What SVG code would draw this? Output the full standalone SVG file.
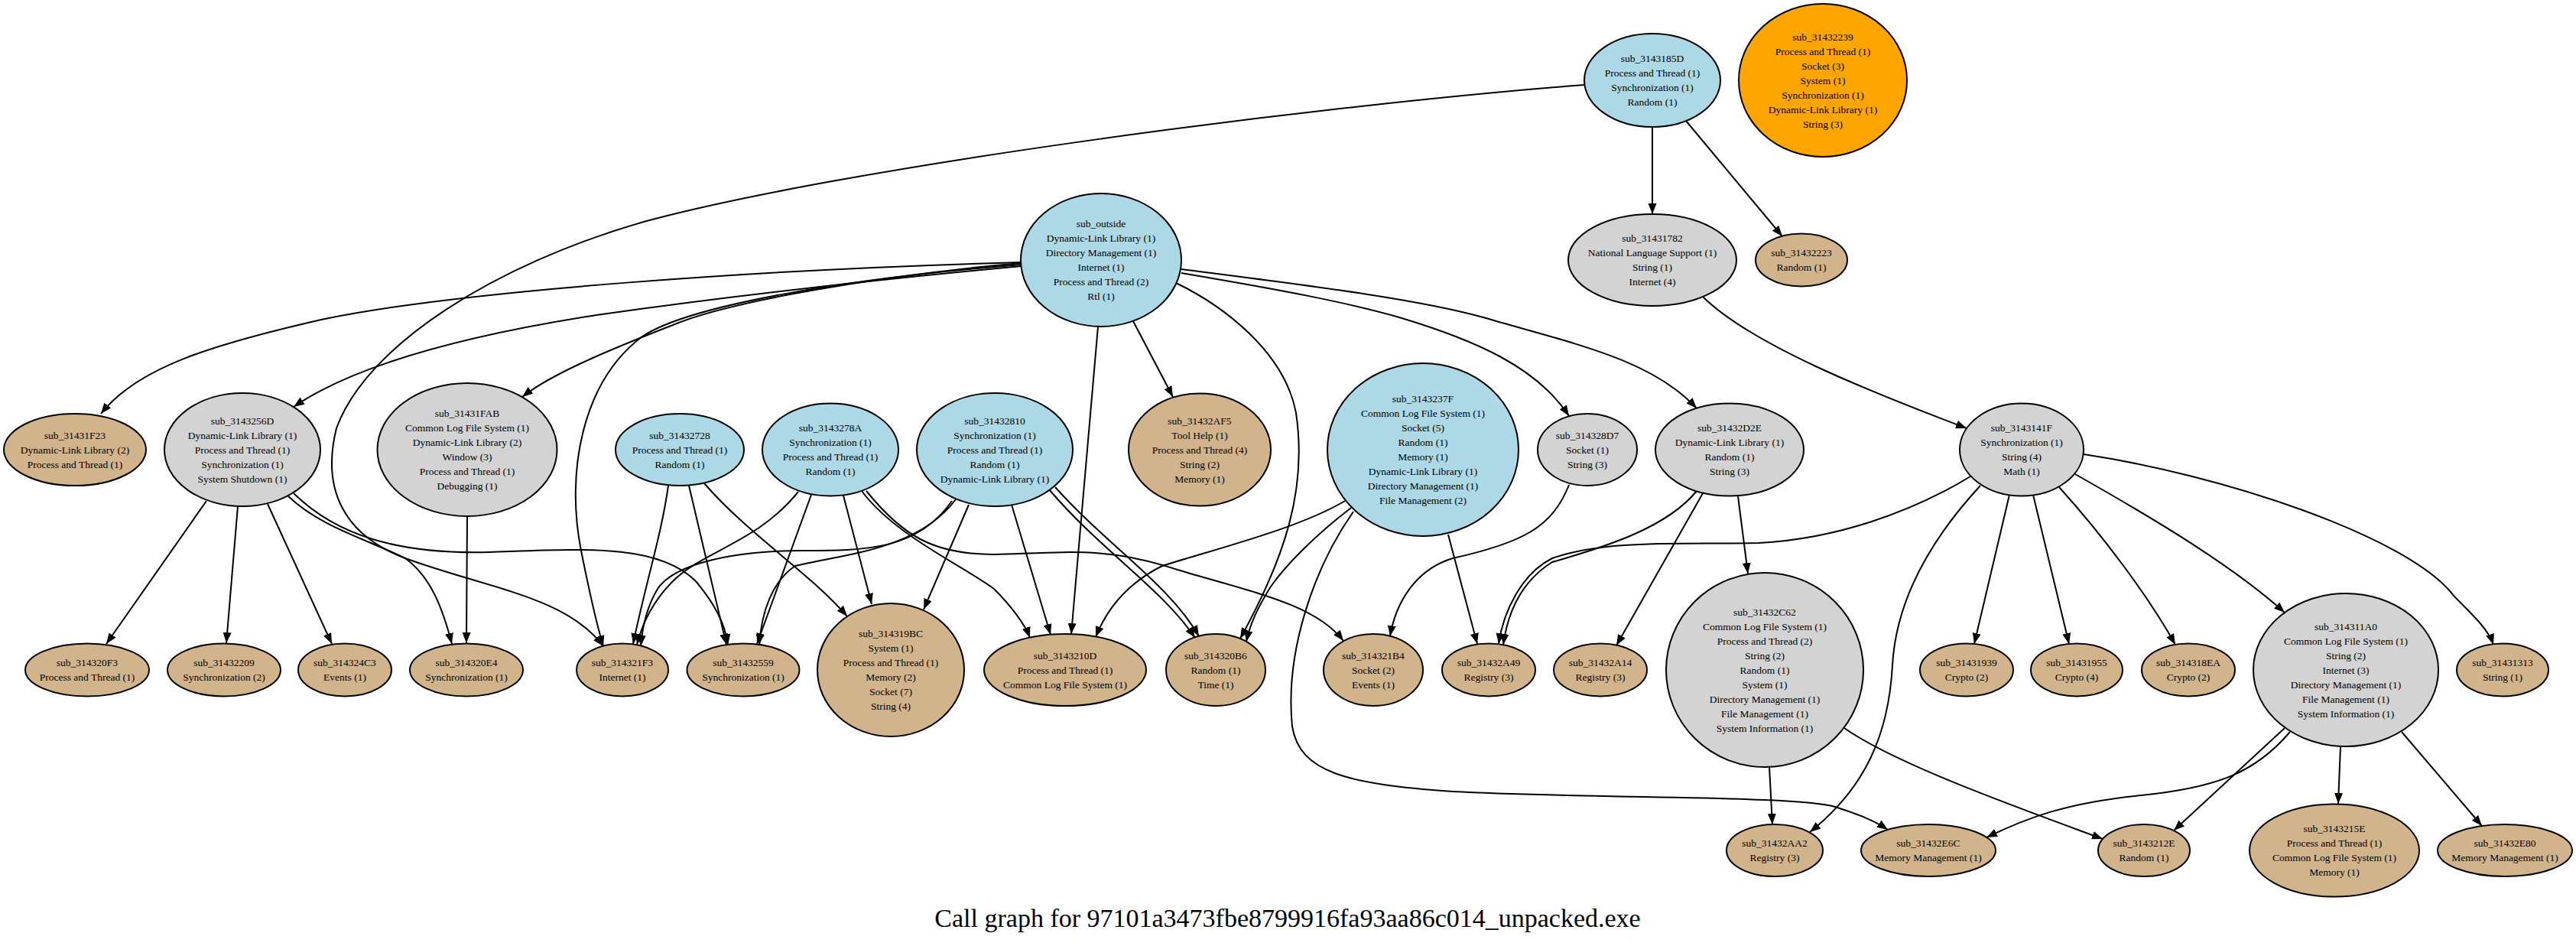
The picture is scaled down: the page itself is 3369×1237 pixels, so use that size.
<svg xmlns="http://www.w3.org/2000/svg" width="3369" height="1237" viewBox="0 0 3369 1237">
<defs>
<style>
.e{fill:none;stroke:#000;stroke-width:2;marker-end:url(#ah)}
ellipse{stroke:#000;stroke-width:2}
.b{fill:#add8e6}.g{fill:#d3d3d3}.t{fill:#d2b48c}.o{fill:#ffa500}
text{font-family:"Liberation Serif","Times New Roman",serif;font-size:13.5px;text-anchor:middle;fill:#000}
.title{font-size:34px}
</style>
<marker id="ah" markerWidth="14" markerHeight="11" refX="14" refY="5.5" orient="auto" markerUnits="userSpaceOnUse"><path d="M0,0L14,5.5L0,11z" fill="#000"/></marker>
</defs>
<rect width="3369" height="1237" fill="#fff"/>
<g id="edges">
<path class="e" d="M1336,343 C1000,352 600,380 420,418 C280,450 180,480 132,541"/>
<path class="e" d="M1336,348 C1100,370 900,395 780,412 C600,440 460,480 384,532"/>
<path class="e" d="M1336,344 C1150,360 950,395 880,425 C790,460 720,490 683,519"/>
<path class="e" d="M1336,346 C1100,365 900,400 840,440 C760,500 740,620 760,720 C772,780 780,815 789,845"/>
<path class="e" d="M1436,427 L1401,829"/>
<path class="e" d="M1482,420 L1534,519"/>
<path class="e" d="M1538,370 C1600,400 1680,460 1695,540 C1710,640 1680,730 1622,835"/>
<path class="e" d="M1545,357 C1680,380 1760,395 1830,415 C1930,445 2010,480 2052,544"/>
<path class="e" d="M1545,352 C1700,372 1850,390 1940,415 C2060,450 2160,470 2219,534"/>
<path class="e" d="M2161,166 L2161,280"/>
<path class="e" d="M2205,158 L2331,309"/>
<path class="e" d="M2072,111 C1700,140 1100,220 842,290 C650,345 480,450 440,560 C420,640 450,700 530,730 C640,770 740,780 789,845"/>
<path class="e" d="M2227,388 C2290,450 2440,510 2572,560"/>
<path class="e" d="M270,655 L139,842"/>
<path class="e" d="M311,662 L296,841"/>
<path class="e" d="M350,659 L434,842"/>
<path class="e" d="M376,648 C420,690 480,705 530,730 C565,755 580,800 591,842"/>
<path class="e" d="M384,645 C440,700 520,725 640,722 C760,718 860,710 910,760 C935,790 948,815 952,843"/>
<path class="e" d="M611,675 L610,841"/>
<path class="e" d="M874,635 C865,700 845,760 828,842"/>
<path class="e" d="M901,635 L950,843"/>
<path class="e" d="M921,632 C980,700 1060,750 1108,806"/>
<path class="e" d="M1044,643 C990,710 920,720 880,760 C855,785 840,815 833,843"/>
<path class="e" d="M1061,647 L990,842"/>
<path class="e" d="M1103,648 L1140,790"/>
<path class="e" d="M1127,642 C1170,700 1260,740 1300,770 C1320,790 1340,815 1347,834"/>
<path class="e" d="M1133,642 C1180,700 1220,725 1300,725 C1400,722 1450,715 1540,745 C1640,775 1720,790 1757,838"/>
<path class="e" d="M1245,655 C1200,720 1130,720 1050,720 C950,720 880,740 860,770 C845,795 840,820 838,845"/>
<path class="e" d="M1250,653 C1200,720 1100,725 1040,740 C1010,760 996,800 993,843"/>
<path class="e" d="M1267,660 L1208,797"/>
<path class="e" d="M1323,660 L1374,830"/>
<path class="e" d="M1372,640 C1440,720 1520,770 1563,834"/>
<path class="e" d="M1380,637 C1450,715 1530,765 1568,832"/>
<path class="e" d="M1759,655 C1700,690 1600,715 1520,740 C1480,760 1450,790 1433,833"/>
<path class="e" d="M1767,664 C1720,700 1680,740 1660,770 C1645,795 1635,815 1630,839"/>
<path class="e" d="M1770,669 C1720,740 1680,850 1690,950 C1700,1010 1760,1025 1900,1035 C2100,1045 2350,1040 2400,1055 C2430,1065 2450,1072 2469,1085"/>
<path class="e" d="M1894,699 L1932,842"/>
<path class="e" d="M2052,634 C2030,690 1990,710 1900,730 C1850,745 1825,790 1818,832"/>
<path class="e" d="M2219,642 C2180,690 2100,715 2030,735 C1990,760 1972,800 1966,843"/>
<path class="e" d="M2227,645 L2114,844"/>
<path class="e" d="M2273,649 L2286,750"/>
<path class="e" d="M2577,623 C2500,670 2400,705 2300,710 C2200,712 2100,705 2030,730 C1990,750 1966,800 1960,842"/>
<path class="e" d="M2590,635 C2530,700 2480,780 2475,870 C2470,960 2440,1030 2367,1088"/>
<path class="e" d="M2628,647 L2582,842"/>
<path class="e" d="M2659,647 L2706,842"/>
<path class="e" d="M2693,637 C2750,700 2810,780 2845,843"/>
<path class="e" d="M2714,620 C2820,680 2920,740 2988,801"/>
<path class="e" d="M2725,594 C2900,620 3150,700 3210,780 C3240,810 3255,825 3261,843"/>
<path class="e" d="M2314,1003 L2318,1078"/>
<path class="e" d="M2412,952 C2480,1000 2650,1060 2750,1097"/>
<path class="e" d="M2988,952 L2843,1086"/>
<path class="e" d="M2995,957 C2950,1010 2900,1030 2800,1040 C2700,1050 2650,1070 2598,1095"/>
<path class="e" d="M3061,976 L3058,1051"/>
<path class="e" d="M3141,957 L3246,1080"/>
</g>
<g id="n_outside"><ellipse class="b" cx="1440" cy="340" rx="105" ry="87"/><text x="1440" y="297">sub_outside<tspan x="1440" dy="19">Dynamic-Link Library (1)</tspan><tspan x="1440" dy="19">Directory Management (1)</tspan><tspan x="1440" dy="19">Internet (1)</tspan><tspan x="1440" dy="19">Process and Thread (2)</tspan><tspan x="1440" dy="19">Rtl (1)</tspan></text></g>
<g id="n_3143185D"><ellipse class="b" cx="2161" cy="105" rx="89" ry="61"/><text x="2161" y="81">sub_3143185D<tspan x="2161" dy="19">Process and Thread (1)</tspan><tspan x="2161" dy="19">Synchronization (1)</tspan><tspan x="2161" dy="19">Random (1)</tspan></text></g>
<g id="n_31432239"><ellipse class="o" cx="2384" cy="105" rx="110" ry="100"/><text x="2384" y="52.5">sub_31432239<tspan x="2384" dy="19">Process and Thread (1)</tspan><tspan x="2384" dy="19">Socket (3)</tspan><tspan x="2384" dy="19">System (1)</tspan><tspan x="2384" dy="19">Synchronization (1)</tspan><tspan x="2384" dy="19">Dynamic-Link Library (1)</tspan><tspan x="2384" dy="19">String (3)</tspan></text></g>
<g id="n_31431782"><ellipse class="g" cx="2161" cy="340" rx="110" ry="60"/><text x="2161" y="316">sub_31431782<tspan x="2161" dy="19">National Language Support (1)</tspan><tspan x="2161" dy="19">String (1)</tspan><tspan x="2161" dy="19">Internet (4)</tspan></text></g>
<g id="n_31432223"><ellipse class="t" cx="2356" cy="340" rx="60" ry="34.5"/><text x="2356" y="335">sub_31432223<tspan x="2356" dy="19">Random (1)</tspan></text></g>
<g id="n_31431F23"><ellipse class="t" cx="98" cy="588" rx="93" ry="47"/><text x="98" y="573.5">sub_31431F23<tspan x="98" dy="19">Dynamic-Link Library (2)</tspan><tspan x="98" dy="19">Process and Thread (1)</tspan></text></g>
<g id="n_3143256D"><ellipse class="g" cx="317" cy="588" rx="102" ry="74"/><text x="317" y="554.5">sub_3143256D<tspan x="317" dy="19">Dynamic-Link Library (1)</tspan><tspan x="317" dy="19">Process and Thread (1)</tspan><tspan x="317" dy="19">Synchronization (1)</tspan><tspan x="317" dy="19">System Shutdown (1)</tspan></text></g>
<g id="n_31431FAB"><ellipse class="g" cx="611" cy="588" rx="117.5" ry="87"/><text x="611" y="545">sub_31431FAB<tspan x="611" dy="19">Common Log File System (1)</tspan><tspan x="611" dy="19">Dynamic-Link Library (2)</tspan><tspan x="611" dy="19">Window (3)</tspan><tspan x="611" dy="19">Process and Thread (1)</tspan><tspan x="611" dy="19">Debugging (1)</tspan></text></g>
<g id="n_31432728"><ellipse class="b" cx="889" cy="588" rx="84" ry="47"/><text x="889" y="573.5">sub_31432728<tspan x="889" dy="19">Process and Thread (1)</tspan><tspan x="889" dy="19">Random (1)</tspan></text></g>
<g id="n_3143278A"><ellipse class="b" cx="1086" cy="588" rx="89" ry="60.5"/><text x="1086" y="564">sub_3143278A<tspan x="1086" dy="19">Synchronization (1)</tspan><tspan x="1086" dy="19">Process and Thread (1)</tspan><tspan x="1086" dy="19">Random (1)</tspan></text></g>
<g id="n_31432810"><ellipse class="b" cx="1301" cy="588" rx="102" ry="74"/><text x="1301" y="554.5">sub_31432810<tspan x="1301" dy="19">Synchronization (1)</tspan><tspan x="1301" dy="19">Process and Thread (1)</tspan><tspan x="1301" dy="19">Random (1)</tspan><tspan x="1301" dy="19">Dynamic-Link Library (1)</tspan></text></g>
<g id="n_31432AF5"><ellipse class="t" cx="1569" cy="588" rx="93" ry="73.5"/><text x="1569" y="554.5">sub_31432AF5<tspan x="1569" dy="19">Tool Help (1)</tspan><tspan x="1569" dy="19">Process and Thread (4)</tspan><tspan x="1569" dy="19">String (2)</tspan><tspan x="1569" dy="19">Memory (1)</tspan></text></g>
<g id="n_3143237F"><ellipse class="b" cx="1861" cy="588" rx="125" ry="113"/><text x="1861" y="526">sub_3143237F<tspan x="1861" dy="19">Common Log File System (1)</tspan><tspan x="1861" dy="19">Socket (5)</tspan><tspan x="1861" dy="19">Random (1)</tspan><tspan x="1861" dy="19">Memory (1)</tspan><tspan x="1861" dy="19">Dynamic-Link Library (1)</tspan><tspan x="1861" dy="19">Directory Management (1)</tspan><tspan x="1861" dy="19">File Management (2)</tspan></text></g>
<g id="n_314328D7"><ellipse class="g" cx="2076" cy="588" rx="65" ry="47"/><text x="2076" y="573.5">sub_314328D7<tspan x="2076" dy="19">Socket (1)</tspan><tspan x="2076" dy="19">String (3)</tspan></text></g>
<g id="n_31432D2E"><ellipse class="g" cx="2262" cy="588" rx="97" ry="60.5"/><text x="2262" y="564">sub_31432D2E<tspan x="2262" dy="19">Dynamic-Link Library (1)</tspan><tspan x="2262" dy="19">Random (1)</tspan><tspan x="2262" dy="19">String (3)</tspan></text></g>
<g id="n_3143141F"><ellipse class="g" cx="2644" cy="588" rx="81" ry="60.5"/><text x="2644" y="564">sub_3143141F<tspan x="2644" dy="19">Synchronization (1)</tspan><tspan x="2644" dy="19">String (4)</tspan><tspan x="2644" dy="19">Math (1)</tspan></text></g>
<g id="n_314320F3"><ellipse class="t" cx="114" cy="876" rx="81" ry="34.5"/><text x="114" y="871">sub_314320F3<tspan x="114" dy="19">Process and Thread (1)</tspan></text></g>
<g id="n_31432209"><ellipse class="t" cx="293" cy="876" rx="74" ry="34.5"/><text x="293" y="871">sub_31432209<tspan x="293" dy="19">Synchronization (2)</tspan></text></g>
<g id="n_314324C3"><ellipse class="t" cx="451" cy="876" rx="61" ry="34.5"/><text x="451" y="871">sub_314324C3<tspan x="451" dy="19">Events (1)</tspan></text></g>
<g id="n_314320E4"><ellipse class="t" cx="610" cy="876" rx="74" ry="34.5"/><text x="610" y="871">sub_314320E4<tspan x="610" dy="19">Synchronization (1)</tspan></text></g>
<g id="n_314321F3"><ellipse class="t" cx="814" cy="876" rx="60" ry="34.5"/><text x="814" y="871">sub_314321F3<tspan x="814" dy="19">Internet (1)</tspan></text></g>
<g id="n_31432559"><ellipse class="t" cx="972" cy="876" rx="73.5" ry="34.5"/><text x="972" y="871">sub_31432559<tspan x="972" dy="19">Synchronization (1)</tspan></text></g>
<g id="n_314319BC"><ellipse class="t" cx="1165" cy="876" rx="96" ry="87"/><text x="1165" y="833">sub_314319BC<tspan x="1165" dy="19">System (1)</tspan><tspan x="1165" dy="19">Process and Thread (1)</tspan><tspan x="1165" dy="19">Memory (2)</tspan><tspan x="1165" dy="19">Socket (7)</tspan><tspan x="1165" dy="19">String (4)</tspan></text></g>
<g id="n_3143210D"><ellipse class="t" cx="1393" cy="876" rx="106" ry="47"/><text x="1393" y="861.5">sub_3143210D<tspan x="1393" dy="19">Process and Thread (1)</tspan><tspan x="1393" dy="19">Common Log File System (1)</tspan></text></g>
<g id="n_314320B6"><ellipse class="t" cx="1590" cy="876" rx="65" ry="47"/><text x="1590" y="861.5">sub_314320B6<tspan x="1590" dy="19">Random (1)</tspan><tspan x="1590" dy="19">Time (1)</tspan></text></g>
<g id="n_314321B4"><ellipse class="t" cx="1796" cy="876" rx="65" ry="47"/><text x="1796" y="861.5">sub_314321B4<tspan x="1796" dy="19">Socket (2)</tspan><tspan x="1796" dy="19">Events (1)</tspan></text></g>
<g id="n_31432A49"><ellipse class="t" cx="1947" cy="876" rx="61" ry="34.5"/><text x="1947" y="871">sub_31432A49<tspan x="1947" dy="19">Registry (3)</tspan></text></g>
<g id="n_31432A14"><ellipse class="t" cx="2093" cy="876" rx="61" ry="34.5"/><text x="2093" y="871">sub_31432A14<tspan x="2093" dy="19">Registry (3)</tspan></text></g>
<g id="n_31432C62"><ellipse class="g" cx="2308" cy="876" rx="129" ry="127"/><text x="2308" y="804.5">sub_31432C62<tspan x="2308" dy="19">Common Log File System (1)</tspan><tspan x="2308" dy="19">Process and Thread (2)</tspan><tspan x="2308" dy="19">String (2)</tspan><tspan x="2308" dy="19">Random (1)</tspan><tspan x="2308" dy="19">System (1)</tspan><tspan x="2308" dy="19">Directory Management (1)</tspan><tspan x="2308" dy="19">File Management (1)</tspan><tspan x="2308" dy="19">System Information (1)</tspan></text></g>
<g id="n_31431939"><ellipse class="t" cx="2572" cy="876" rx="61" ry="34.5"/><text x="2572" y="871">sub_31431939<tspan x="2572" dy="19">Crypto (2)</tspan></text></g>
<g id="n_31431955"><ellipse class="t" cx="2716" cy="876" rx="60" ry="34.5"/><text x="2716" y="871">sub_31431955<tspan x="2716" dy="19">Crypto (4)</tspan></text></g>
<g id="n_314318EA"><ellipse class="t" cx="2862" cy="876" rx="61" ry="34.5"/><text x="2862" y="871">sub_314318EA<tspan x="2862" dy="19">Crypto (2)</tspan></text></g>
<g id="n_314311A0"><ellipse class="g" cx="3068" cy="876" rx="121" ry="100"/><text x="3068" y="823.5">sub_314311A0<tspan x="3068" dy="19">Common Log File System (1)</tspan><tspan x="3068" dy="19">String (2)</tspan><tspan x="3068" dy="19">Internet (3)</tspan><tspan x="3068" dy="19">Directory Management (1)</tspan><tspan x="3068" dy="19">File Management (1)</tspan><tspan x="3068" dy="19">System Information (1)</tspan></text></g>
<g id="n_31431313"><ellipse class="t" cx="3273" cy="876" rx="60" ry="34.5"/><text x="3273" y="871">sub_31431313<tspan x="3273" dy="19">String (1)</tspan></text></g>
<g id="n_31432AA2"><ellipse class="t" cx="2321" cy="1112" rx="63" ry="34"/><text x="2321" y="1107">sub_31432AA2<tspan x="2321" dy="19">Registry (3)</tspan></text></g>
<g id="n_31432E6C"><ellipse class="t" cx="2522" cy="1112" rx="88" ry="34"/><text x="2522" y="1107">sub_31432E6C<tspan x="2522" dy="19">Memory Management (1)</tspan></text></g>
<g id="n_3143212E"><ellipse class="t" cx="2804" cy="1112" rx="60" ry="34"/><text x="2804" y="1107">sub_3143212E<tspan x="2804" dy="19">Random (1)</tspan></text></g>
<g id="n_3143215E"><ellipse class="t" cx="3053" cy="1112" rx="111" ry="60.5"/><text x="3053" y="1088">sub_3143215E<tspan x="3053" dy="19">Process and Thread (1)</tspan><tspan x="3053" dy="19">Common Log File System (1)</tspan><tspan x="3053" dy="19">Memory (1)</tspan></text></g>
<g id="n_31432E80"><ellipse class="t" cx="3276" cy="1112" rx="88" ry="34"/><text x="3276" y="1107">sub_31432E80<tspan x="3276" dy="19">Memory Management (1)</tspan></text></g>
<text class="title" x="1684" y="1212">Call graph for 97101a3473fbe8799916fa93aa86c014_unpacked.exe</text>
</svg>
